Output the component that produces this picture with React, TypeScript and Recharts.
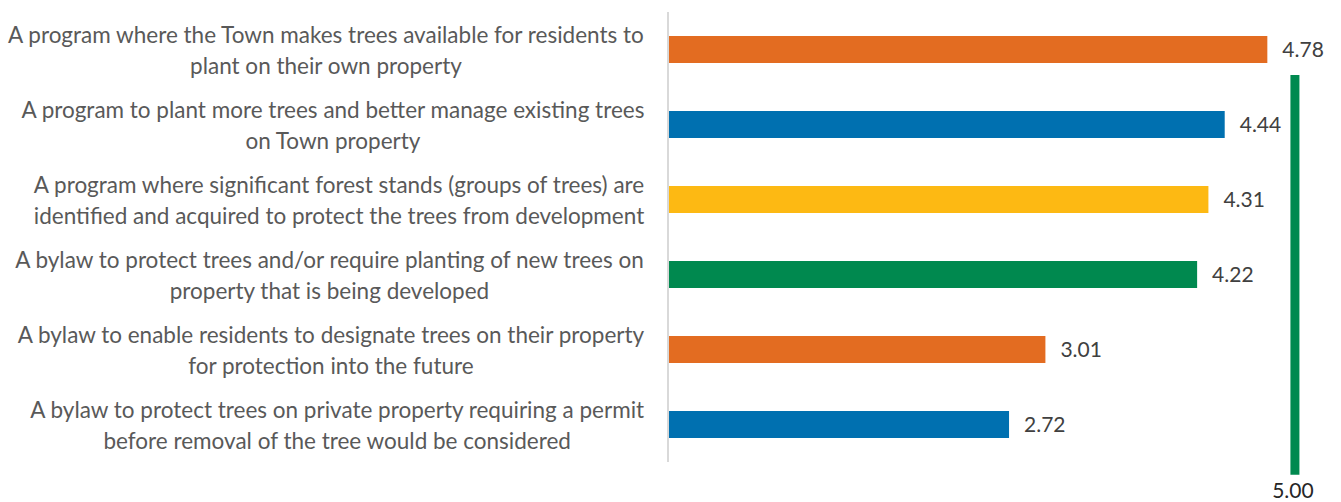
import React from 'react'
import { BarChart, Bar, XAxis, YAxis, Cell, LabelList, ReferenceLine } from 'recharts'

// each category label, split the way it wraps in the original
const categoryLines: string[][] = [
    ['A program where the Town makes trees available for residents to', 'plant on their own property'],
    ['A program to plant more trees and better manage existing trees', 'on Town property'],
    ['A program where significant forest stands (groups of trees) are', 'identified and acquired to protect the trees from development'],
    ['A bylaw to protect trees and/or require planting of new trees on', 'property that is being developed'],
    ['A bylaw to enable residents to designate trees on their property', 'for protection into the future'],
    ['A bylaw to protect trees on private property requiring a permit', 'before removal of the tree would be considered'],
]
const scores = [4.78, 4.44, 4.31, 4.22, 3.01, 2.72]
const barColors = ['#E36C21', '#0070B0', '#FDB913', '#00894F', '#E36C21', '#0070B0']
const maxScore = 5
const maxLabel = '5.00'
// vertical extent of the max marker, in category rows (0 = top of first row)
const maxMarkerRows = [0.84, 6.17]

const FONT = 'Lato, "Noto Sans", sans-serif'
const LABEL_SIZE = 22.5

const data = categoryLines.map((lines, i) => ({ name: lines.join(' '), score: scores[i] }))

let ctx: CanvasRenderingContext2D | null = null
function textWidth(text: string) {
    if (!ctx) ctx = document.createElement('canvas').getContext('2d')
    if (!ctx) return text.length * LABEL_SIZE * 0.45
    ctx.font = `${LABEL_SIZE}px Lato`
    return ctx.measureText(text).width
}

function CategoryTick(props: any) {
    const { x, y, index } = props
    const lines = categoryLines[index] || []
    const right = x - 23
    const block = Math.max(...lines.map(textWidth))
    const cx = right - block / 2
    return (
        <text textAnchor="middle" fill="#595959" fontSize={LABEL_SIZE} fontFamily={FONT}>
            <tspan x={cx} y={y - 7}>{lines[0]}</tspan>
            <tspan x={cx} y={y + 24}>{lines[1]}</tspan>
        </text>
    )
}

// green marker at the top of the scale, drawn over only part of the plot height
function MaxMarker(props: any) {
    const { x1 } = props
    const plotTop = Math.min(props.y1, props.y2)
    const plotBottom = Math.max(props.y1, props.y2)
    const rowH = (plotBottom - plotTop) / categoryLines.length
    const top = plotTop + maxMarkerRows[0] * rowH
    const bottom = plotTop + maxMarkerRows[1] * rowH
    return (
        <g>
            <line x1={x1} x2={x1} y1={top} y2={bottom} stroke="#00894F" strokeWidth={9} />
            <text
                x={x1 - 2}
                y={bottom + 23}
                textAnchor="middle"
                fill="#262626"
                fontSize={21}
                fontFamily={FONT}
            >
                {maxLabel}
            </text>
        </g>
    )
}

export default function App() {
    return (
        <div style={{ position: 'absolute', left: 0, top: 0, background: '#fff' }}>
            <BarChart
                width={1341}
                height={502}
                data={data}
                layout="vertical"
                margin={{ top: 12, right: 21, left: 0, bottom: 40 }}
            >
                <XAxis type="number" domain={[0, 5.2]} hide />
                <YAxis
                    type="category"
                    dataKey="name"
                    width={668}
                    interval={0}
                    tickLine={false}
                    tickSize={0}
                    tickMargin={0}
                    axisLine={{ stroke: '#D9D9D9', strokeWidth: 2 }}
                    tick={<CategoryTick />}
                />
                <Bar dataKey="score" barSize={27} isAnimationActive={false}>
                    {data.map((d, i) => (
                        <Cell key={d.name} fill={barColors[i]} />
                    ))}
                    <LabelList
                        dataKey="score"
                        position="right"
                        offset={15}
                        fill="#404040"
                        fontSize={21}
                        fontFamily={FONT}
                        formatter={(v: any) => Number(v).toFixed(2)}
                    />
                </Bar>
                <ReferenceLine x={maxScore} ifOverflow="visible" shape={(p: any) => <MaxMarker {...p} />} />
            </BarChart>
        </div>
    )
}
